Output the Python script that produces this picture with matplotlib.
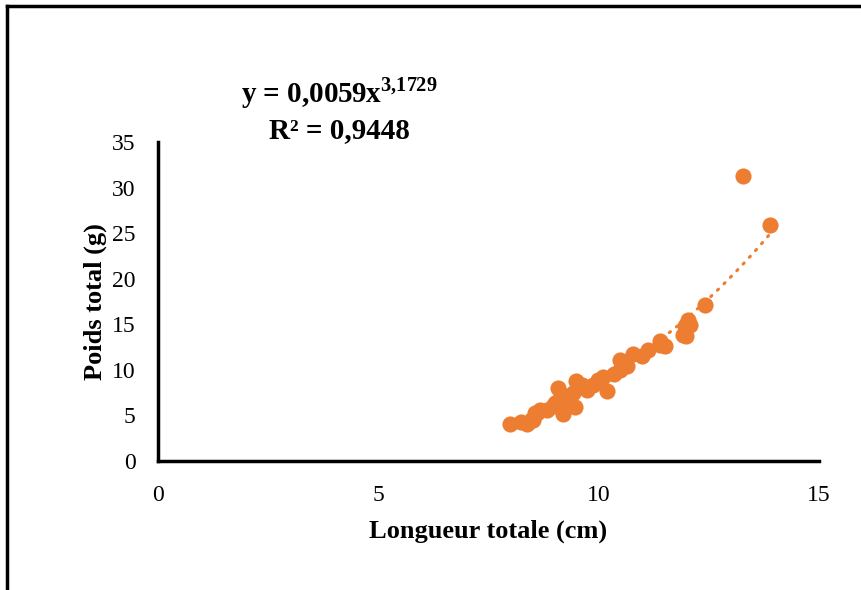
import numpy as np
import matplotlib.pyplot as plt
from matplotlib.lines import Line2D

longueur = [7.99, 8.24, 8.37, 8.51, 8.55, 8.67, 8.83, 8.96, 9.08, 9.08, 9.17, 9.19,
            9.26, 9.35, 9.46, 9.42, 9.48, 9.62, 9.73, 9.87, 9.98, 10.1, 10.19, 10.35,
            10.48, 10.48, 10.64, 10.78, 10.98, 11.12, 11.39, 11.39, 11.5, 11.91, 11.96,
            12.02, 12.07, 11.98, 12.41, 13.27, 13.89, 9.3, 9.0, 8.6, 9.55]
poids = [4.06, 4.28, 4.06, 4.5, 5.27, 5.6, 5.6, 6.03, 6.58, 8.0, 7.24, 5.16,
         6.9, 6.1, 5.93, 7.46, 8.78, 8.34, 7.8, 8.34, 8.89, 9.2, 7.68, 9.55,
         9.98, 11.08, 10.42, 11.74, 11.52, 12.18, 12.73, 13.17, 12.62, 13.83, 14.81,
         15.47, 14.92, 13.72, 17.12, 31.27, 25.89, 7.0, 6.4, 5.3, 8.1]
coef_a = 0.0059
coef_b = 3.1729

orange = '#ED7D31'
plt.rcParams['font.family'] = ['Liberation Serif', 'DejaVu Serif']
plt.rcParams['mathtext.fontset'] = 'custom'
plt.rcParams['mathtext.rm'] = 'Liberation Serif'
plt.rcParams['mathtext.bf'] = 'Liberation Serif:bold'

fig = plt.figure(figsize=(8.62, 5.9), dpi=100)
ax = fig.add_axes([0.1833, 0.2186, 0.7667, 0.5407])

xs = np.linspace(min(longueur), max(longueur), 200)
ax.plot(xs, coef_a * xs ** coef_b, linestyle=(0, (0.5, 2.5)), color=orange,
        linewidth=2.2, dash_capstyle='round', zorder=2)
ax.scatter(longueur, poids, s=135, color=orange, zorder=3, linewidths=0)

ax.set_xlim(0, 15)
ax.set_ylim(0, 35)
ax.set_xticks([0, 5, 10, 15])
ax.set_yticks(range(0, 36, 5))
ax.tick_params(length=0, labelsize=17)
ax.tick_params(axis='x', pad=17)
ax.tick_params(axis='y', pad=16)
for s in ['top', 'right']:
    ax.spines[s].set_visible(False)
for s in ['left', 'bottom']:
    ax.spines[s].set_linewidth(2.5)
ax.set_xlabel('Longueur totale (cm)', fontsize=19, fontweight='bold', labelpad=10)
ax.set_ylabel('Poids total (g)', fontsize=19, fontweight='bold', labelpad=4)

fig.text(0.394, 0.842, r'y = 0,0059x$^{\mathbf{3{,}1729}}$', fontsize=21, fontweight='bold',
         ha='center', va='center')
fig.text(0.394, 0.779, 'R² = 0,9448', fontsize=21, fontweight='bold', ha='center', va='center')

# cadre
fig.add_artist(Line2D([0.008, 0.008], [0.0, 0.99], transform=fig.transFigure, color='black', linewidth=2.5))
fig.add_artist(Line2D([0.008, 1.0], [0.99, 0.99], transform=fig.transFigure, color='black', linewidth=2.5))

fig.savefig('out.png', dpi=100)
